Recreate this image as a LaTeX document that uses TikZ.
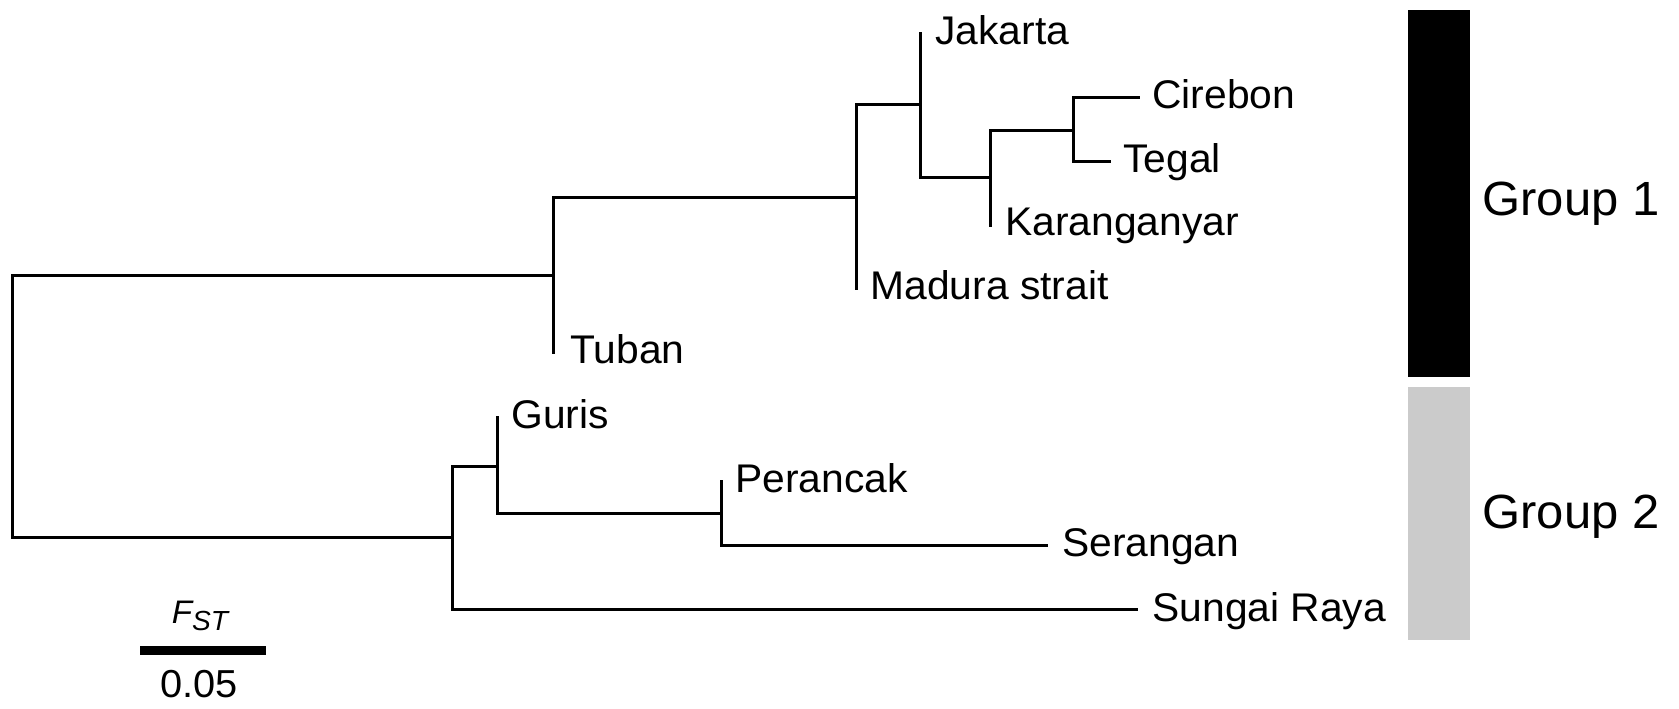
\documentclass[tikz,border=0pt]{standalone}
\usepackage{fontspec}
\setmainfont[FakeStretch=1.02]{Liberation Sans}
\definecolor{grouptwo}{RGB}{203,203,203}
\tikzset{
  branch/.style={line width=1.5pt},
  taxon/.style={anchor=base west, inner sep=0pt, font=\fontsize{20}{20}\selectfont},
  grouplab/.style={anchor=base west, inner sep=0pt, font=\fontsize{24}{24}\selectfont},
  groupbar/.style={inner sep=0pt, minimum width=31pt, anchor=north west},
  scalebar/.style={line width=4.6pt},
}
\begin{document}
\begin{tikzpicture}[x=0.5pt,y=-0.5pt]
\useasboundingbox (0,0) rectangle (1679,708);

% internal nodes of the tree
\coordinate (root) at (12,406);
\coordinate (nA) at (553,275);
\coordinate (nB) at (856,197);
\coordinate (nC) at (920.5,104);
\coordinate (nD) at (990.5,177);
\coordinate (nE) at (1073.5,130);
\coordinate (nG) at (452,537);
\coordinate (nF) at (497,466);
\coordinate (nP) at (721,513);

% branch tips
\coordinate (lTuban) at (553,354);
\coordinate (lMadura) at (856,290);
\coordinate (lJakarta) at (920.5,32);
\coordinate (lKaran) at (990.5,227);
\coordinate (lCirebon) at (1140,97);
\coordinate (lTegal) at (1111,161);
\coordinate (lGuris) at (497,416);
\coordinate (lPerancak) at (721,480);
\coordinate (lSerangan) at (1048,545);
\coordinate (lSungai) at (1137.5,609);

% branches
\draw[branch] (root) |- (nA);
\draw[branch] (root) |- (nG);
\draw[branch] (nA) |- (lTuban);
\draw[branch] (nA) |- (nB);
\draw[branch] (nB) |- (lMadura);
\draw[branch] (nB) |- (nC);
\draw[branch] (nC) |- (lJakarta);
\draw[branch] (nC) |- (nD);
\draw[branch] (nD) |- (lKaran);
\draw[branch] (nD) |- (nE);
\draw[branch] (nE) |- (lCirebon);
\draw[branch] (nE) |- (lTegal);
\draw[branch] (nG) |- (nF);
\draw[branch] (nG) |- (lSungai);
\draw[branch] (nF) |- (lGuris);
\draw[branch] (nF) |- (nP);
\draw[branch] (nP) |- (lPerancak);
\draw[branch] (nP) |- (lSerangan);

% population labels
\node[taxon] (tJakarta) at (935,44) {Jakarta};
\node[taxon] (tCirebon) at (1152,108) {Cirebon};
\node[taxon] (tTegal) at (1123,172) {Tegal};
\node[taxon] (tKaran) at (1005,235) {Karanganyar};
\node[taxon] (tMadura) at (870,299) {Madura strait};
\node[taxon] (tTuban) at (570,363) {Tuban};
\node[taxon] (tGuris) at (511,428) {Guris};
\node[taxon] (tPerancak) at (735,492) {Perancak};
\node[taxon] (tSerangan) at (1062,556) {Serangan};
\node[taxon] (tSungai) at (1152,621) {Sungai Raya};

% group bars
\node[groupbar, fill=black, minimum height=183.5pt] (bar1) at (1408,10) {};
\node[groupbar, fill=grouptwo, minimum height=126.5pt] (bar2) at (1408,387) {};
\node[grouplab] (g1) at (1482,215) {Group 1};
\node[grouplab] (g2) at (1482,528) {Group 2};

% scale bar
\coordinate (sbL) at (140,650.5);
\coordinate (sbR) at (266,650.5);
\draw[scalebar] (sbL) -- (sbR);
\node[anchor=base, inner sep=0pt, font=\fontsize{16.3}{16.3}\selectfont] (fst) at (200,623)
  {\itshape F\raisebox{-3.5pt}{\fontsize{13.8}{13.8}\selectfont ST}};
\node[anchor=base, inner sep=0pt, font=\fontsize{19.5}{19.5}\selectfont] (sbval) at (199,697) {0.05};
\end{tikzpicture}
\end{document}
